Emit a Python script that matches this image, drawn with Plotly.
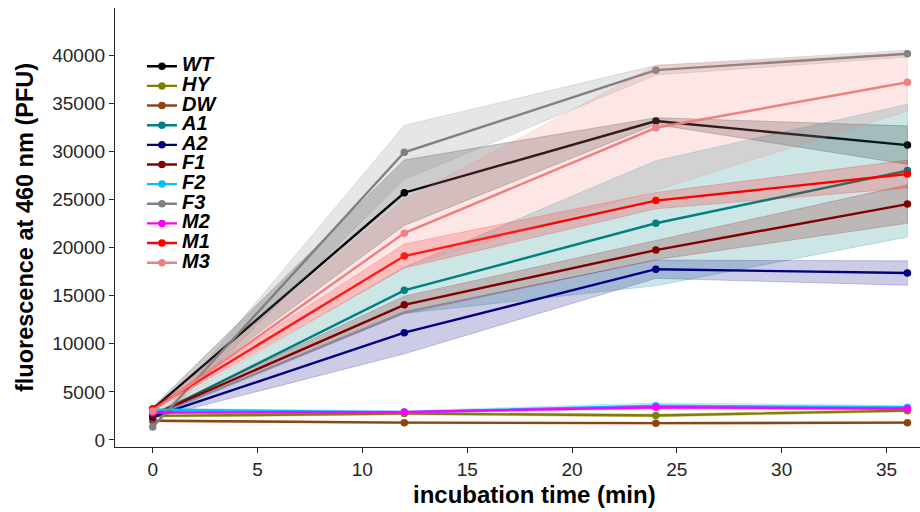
import plotly.graph_objects as go

# Sampling times (min)
time_min = [0, 12, 24, 36]

# Mean fluorescence and standard deviation per strain
strains = ["WT", "HY", "DW", "A1", "A2", "F1", "F2", "F3", "M2", "M1", "M3"]

wt_mean = [3200, 25700, 33150, 30650]
wt_sd = [200, 3400, 350, 2000]
hy_mean = [2500, 2750, 2550, 3050]
hy_sd = [150, 150, 150, 150]
dw_mean = [2000, 1800, 1750, 1800]
dw_sd = [100, 100, 100, 100]
a1_mean = [2500, 15550, 22530, 28000]
a1_sd = [200, 2400, 6500, 6900]
a2_mean = [2400, 11150, 17750, 17350]
a2_sd = [150, 2200, 950, 1270]
f1_mean = [2600, 14050, 19740, 24520]
f1_sd = [150, 900, 1000, 2000]
f2_mean = [3150, 2900, 3550, 3400]
f2_sd = [150, 150, 300, 200]
f3_mean = [1350, 29900, 38440, 40150]
f3_sd = [150, 2800, 500, 350]
m2_mean = [2850, 2900, 3400, 3250]
m2_sd = [100, 100, 150, 150]
m1_mean = [3250, 19120, 24880, 27640]
m1_sd = [200, 1250, 850, 1450]
m3_mean = [3000, 21500, 32450, 37180]
m3_sd = [200, 3500, 6500, 3000]

means = [wt_mean, hy_mean, dw_mean, a1_mean, a2_mean, f1_mean,
         f2_mean, f3_mean, m2_mean, m1_mean, m3_mean]
sds = [wt_sd, hy_sd, dw_sd, a1_sd, a2_sd, f1_sd,
       f2_sd, f3_sd, m2_sd, m1_sd, m3_sd]

colors = [(0, 0, 0), (128, 128, 0), (139, 69, 19), (0, 128, 128),
          (0, 0, 128), (128, 0, 0), (0, 191, 255), (128, 128, 128),
          (255, 0, 255), (255, 0, 0), (240, 128, 128)]

font_family = "Liberation Sans, Arial, sans-serif"
ink = "#262626"

fig = go.Figure()

for name, m, s, c in zip(strains, means, sds, colors):
    upper = [a + b for a, b in zip(m, s)]
    lower = [a - b for a, b in zip(m, s)]
    band = "rgba(%d,%d,%d,0.2)" % c
    fig.add_trace(go.Scatter(
        x=time_min + time_min[::-1],
        y=upper + lower[::-1],
        fill="toself",
        fillcolor=band,
        line=dict(color=band, width=1),
        mode="lines",
        hoverinfo="skip",
        showlegend=False,
    ))
    solid = "rgb(%d,%d,%d)" % c
    fig.add_trace(go.Scatter(
        x=time_min,
        y=m,
        # compact rows with large bold-italic labels
        name='<span style="font-size:20px">%s</span>' % name,
        mode="lines+markers",
        line=dict(color=solid, width=2.4),
        marker=dict(color=solid, size=7.5),
    ))

# x-axis title placed as an annotation (centred on the full axes span)
fig.add_annotation(
    text="<b>incubation time (min)</b>",
    xref="paper", yref="paper",
    x=0.5217, y=-0.109,
    xanchor="center", yanchor="middle",
    showarrow=False,
    font=dict(family=font_family, size=24, color="black"),
)

fig.update_layout(
    width=920,
    height=512,
    margin=dict(l=115, r=0, t=8, b=65),
    paper_bgcolor="white",
    plot_bgcolor="white",
    font=dict(family=font_family, color=ink),
    legend=dict(
        x=0.0335,
        y=0.901,
        xanchor="left",
        yanchor="top",
        bgcolor="rgba(0,0,0,0)",
        font=dict(family=font_family, size=12.8, weight="bold",
                  style="italic", color="black"),
        itemwidth=30,
        tracegroupgap=0,
    ),
    xaxis=dict(
        range=[-1.8, 36.6],
        tickvals=[0, 5, 10, 15, 20, 25, 30, 35],
        showgrid=False,
        zeroline=False,
        showline=True,
        linecolor=ink,
        linewidth=1.25,
        ticks="outside",
        ticklen=5,
        tickwidth=1.25,
        tickcolor=ink,
        tickfont=dict(size=19, color=ink),
    ),
    yaxis=dict(
        range=[-730, 44900],
        tickvals=[0, 5000, 10000, 15000, 20000, 25000, 30000, 35000, 40000],
        tickformat="d",
        showgrid=False,
        zeroline=False,
        showline=True,
        linecolor=ink,
        linewidth=1.25,
        ticks="outside",
        ticklen=5,
        tickwidth=1.25,
        tickcolor=ink,
        tickfont=dict(size=19, color=ink),
        title=dict(text="fluorescence at 460 nm (PFU)",
                   font=dict(size=23.5, weight="bold", color="black"),
                   standoff=12),
    ),
)

fig.write_html("out.html")
